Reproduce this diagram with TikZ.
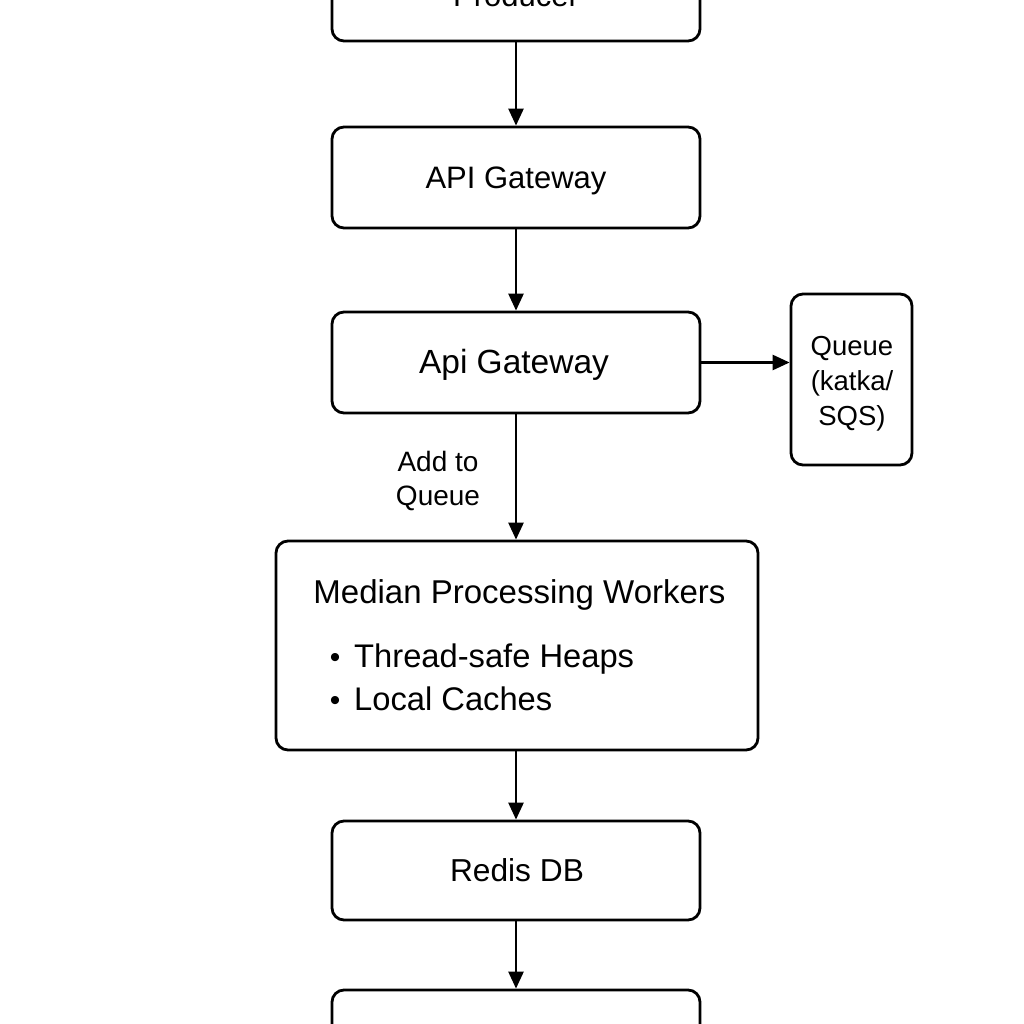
\documentclass[tikz,border=0pt]{standalone}
\usepackage{fontspec}
\setmainfont{Liberation Sans}
\usetikzlibrary{arrows.meta}
\tikzset{
  box/.style={draw=black, line width=2.8pt, rounded corners=12pt, fill=white, inner sep=0pt},
  arr/.style={draw=black, line width=2.6pt, -{Triangle[length=17pt,width=15pt]}},
  lbl/.style={inner sep=0pt, anchor=base, text=black},
}
\begin{document}
\begin{tikzpicture}[x=1pt,y=-1pt]
\useasboundingbox (0,0) rectangle (1024,1024);
\clip (0,0) rectangle (1024,1024);
\fill[white] (0,0) rectangle (1024,1024);
% boxes
\node[box, minimum width=368pt, minimum height=101pt] (prod) at (516,-9.5) {};
\node[box, minimum width=368pt, minimum height=101pt] (gw1) at (516,177.5) {};
\node[box, minimum width=368pt, minimum height=101pt] (gw2) at (516,362.5) {};
\node[box, minimum width=121pt, minimum height=171pt] (queue) at (851.5,379.5) {};
\node[box, minimum width=482pt, minimum height=209pt] (med) at (517,645.5) {};
\node[box, minimum width=368pt, minimum height=99pt] (redis) at (516,870.5) {};
\node[box, minimum width=368pt, minimum height=101pt] (out) at (516,1040.5) {};
% texts
\node[lbl, font=\fontsize{31}{37}\selectfont] (tprod) at (516,7) {Producer};
\node[lbl, font=\fontsize{31}{37}\selectfont] (tgw1) at (516,189) {API Gateway};
\node[lbl, font=\fontsize{33.5}{40}\selectfont] (tgw2) at (514,373) {Api Gateway};
\node[inner sep=0pt, align=center, font=\fontsize{27.5}{35}\selectfont] (tq) at (852,384) {Queue\\(katka/\\SQS)};
\node[inner sep=0pt, align=center, font=\fontsize{28}{34}\selectfont] (tadd) at (438,481) {Add to\\Queue};
\node[lbl, font=\fontsize{33}{40}\selectfont] (tmed) at (519.5,603) {Median Processing Workers};
\node[lbl, anchor=base west, font=\fontsize{32.7}{40}\selectfont] (b1) at (354,667) {Thread-safe Heaps};
\node[lbl, anchor=base west, font=\fontsize{32.7}{40}\selectfont] (b2) at (354,710) {Local Caches};
\node[lbl, anchor=base, font=\fontsize{30}{34}\selectfont] (d1) at (335,667) {•};
\node[lbl, anchor=base, font=\fontsize{30}{34}\selectfont] (d2) at (335,710) {•};
\node[lbl, font=\fontsize{31.7}{38}\selectfont] (tredis) at (517,881) {Redis DB};
% connectors
\draw[arr] (prod.south) -- (gw1.north);
\draw[arr] (gw1.south) -- (gw2.north);
\draw[arr] (gw2.east) -- (gw2.east -| queue.west);
\draw[arr] (gw2.south) -- (gw2.south |- med.north);
\draw[arr] (med.south -| redis.north) -- (redis.north);
\draw[arr] (redis.south) -- (out.north);
\end{tikzpicture}
\end{document}
